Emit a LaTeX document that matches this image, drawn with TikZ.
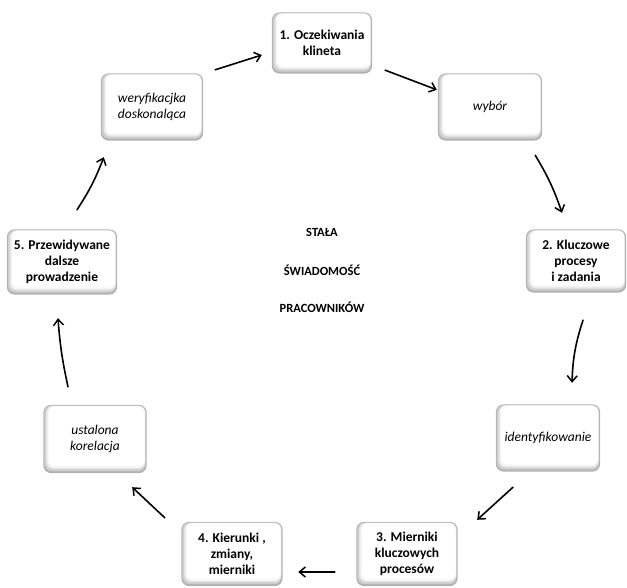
\documentclass[tikz,border=0pt]{standalone}
\usepackage{fontspec}
\setmainfont{Carlito}
\usetikzlibrary{arrows.meta,backgrounds,calc}

% soft bevelled card drawn behind a named node
\newcommand\bevelcard[1]{%
  \fill[gray!60, rounded corners=8pt] (#1.north west) rectangle (#1.south east);
  \fill[gray!38, rounded corners=7.5pt] ([shift={(1,0.7)}]#1.north west) rectangle ([shift={(-1,-2)}]#1.south east);
  \fill[gray!20, rounded corners=7pt] ([shift={(2.8,1)}]#1.north west) rectangle ([shift={(-1.5,-4)}]#1.south east);
  \fill[gray!8, rounded corners=6.5pt] ([shift={(4,1.3)}]#1.north west) rectangle ([shift={(-1.8,-5.3)}]#1.south east);
  \fill[white, rounded corners=6pt] ([shift={(5.5,1.6)}]#1.north west) rectangle ([shift={(-2.2,-7)}]#1.south east);
}

\tikzset{
  card/.style={align=center, inner sep=0pt, font=\fontsize{13.5}{16}\selectfont},
  numbered/.style={card, font=\fontsize{13.5}{16}\selectfont\bfseries},
  phase/.style={card, font=\fontsize{13.5}{16}\selectfont\itshape},
  core/.style={font=\fontsize{12.5}{14}\selectfont\bfseries},
  flow/.style={line width=1.6pt, line cap=round, -{Straight Barb[length=6pt,width=10pt,line width=1.5pt]}},
}

\begin{document}
\begin{tikzpicture}[x=1pt, y=-1pt]
  \useasboundingbox (0,0) rectangle (627,588);

  % cycle steps
  \node[numbered, minimum width=100pt, minimum height=61pt] (b1)  at (322,43)  {1. Oczekiwania\\klineta};
  \node[phase,    minimum width=104pt, minimum height=67pt] (wyb) at (490,107) {wybór};
  \node[numbered, minimum width=100pt, minimum height=63pt] (k2)  at (576,261) {2. Kluczowe\\procesy\\i zadania};
  \node[phase,    minimum width=104pt, minimum height=67pt] (ide) at (548,438) {identyfikowanie};
  \node[numbered, minimum width=101pt, minimum height=64pt] (m3)  at (407,554) {3. Mierniki\\kluczowych\\procesów};
  \node[numbered, minimum width=101pt, minimum height=64pt] (k4)  at (232,554) {4. Kierunki ,\\zmiany,\\mierniki};
  \node[phase,    minimum width=103pt, minimum height=68pt] (ust) at (95,439)  {ustalona\\korelacja};
  \node[numbered, minimum width=110pt, minimum height=65pt] (p5)  at (62,262)  {5. Przewidywane\\dalsze\\prowadzenie};
  \node[phase,    minimum width=102pt, minimum height=67pt] (wer) at (152,107) {weryfikacjka\\doskonaląca};

  % centre caption
  \node[core] (c1) at (322,232) {STAŁA};
  \node[core] (c2) at (322,270) {ŚWIADOMOŚĆ};
  \node[core] (c3) at (322,307) {PRACOWNIKÓW};

  \begin{scope}[on background layer]
    \foreach \n in {b1,wyb,k2,ide,m3,k4,ust,p5,wer} {\bevelcard{\n}}
  \end{scope}

  % hand-drawn arrows between steps
  \draw[flow] ([shift={(13,-3.5)}]b1.south east) -- ([shift={(-1,16.5)}]wyb.north west);
  \draw[flow] ([shift={(-7,14.5)}]wyb.south east) to[bend left=6] ([shift={(-14,-16.5)}]k2.north);
  \draw[flow] ([shift={(7,27.5)}]k2.south) to[bend right=8] ([shift={(24,-21.5)}]ide.north);
  \draw[flow] ([shift={(-35,15.5)}]ide.south) -- ([shift={(19.5,-2)}]m3.north east);
  \draw[flow] ([shift={(-21.5,18)}]m3.west) -- ([shift={(15.5,18)}]k4.east);
  \draw[flow] ([shift={(-16.5,-4)}]k4.north west) -- ([shift={(-14.5,14)}]ust.south east);
  \draw[flow] ([shift={(-27,-18)}]ust.north) to[bend left=4] ([shift={(-4,23.5)}]p5.south);
  \draw[flow] ([shift={(15,-19.5)}]p5.north) to[bend right=6] ([shift={(3,16.5)}]wer.south west);
  \draw[flow] ([shift={(12,-3.5)}]wer.north east) -- ([shift={(-10,12)}]b1.west);
\end{tikzpicture}
\end{document}
